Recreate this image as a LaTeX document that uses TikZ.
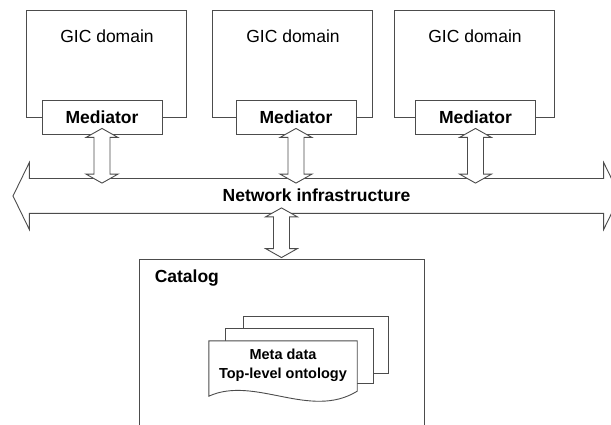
\documentclass[tikz,border=0pt]{standalone}
\usepackage{fontspec}
\setmainfont{Liberation Sans}
\usetikzlibrary{calc,shapes.arrows}

% hollow two-headed block arrow, #1 = upper tip, #2 = lower tip
\newcommand\updown[2]{%
  \draw[blockarr] (#1) -- ($(#1)+(16,9)$) -- ($(#1)+(8,9)$)
    -- ($(#2)+(8,-9)$) -- ($(#2)+(16,-9)$) -- (#2)
    -- ($(#2)+(-16,-9)$) -- ($(#2)+(-8,-9)$)
    -- ($(#1)+(-8,9)$) -- ($(#1)+(-16,9)$) -- cycle;}

\begin{document}
\begin{tikzpicture}[x=1pt, y=-1pt,
  outl/.style={draw=black!70, line width=0.9pt},
  big/.style={font=\fontsize{17.5}{20}\selectfont},
  gicbox/.style={outl, minimum width=160pt, minimum height=107pt},
  med/.style={outl, fill=white, font=\bfseries\fontsize{17.5}{20}\selectfont,
              minimum width=120pt, minimum height=34pt},
  blockarr/.style={outl, fill=white},
  doctxt/.style={align=center, inner sep=0pt,
                 font=\bfseries\fontsize{14.5}{19}\selectfont},
]
\clip (0,0) rectangle (611,425);

% ---- GIC domains with their mediators ----
\node[gicbox] (dom1) at (106,63.5) {};
\node[gicbox] (dom2) at (292,63.5) {};
\node[gicbox] (dom3) at (474,63.5) {};

\node[big] (gic1) at ($(dom1.north)+(1,27)$) {GIC domain};
\node[big] (gic2) at ($(dom2.north)+(1,27)$) {GIC domain};
\node[big] (gic3) at ($(dom3.north)+(1,27)$) {GIC domain};

\node[med] (med1) at (102,117) {Mediator};
\node[med] (med2) at (296,117) {Mediator};
\node[med] (med3) at (475.5,117) {Mediator};

% ---- Network ----
\node[outl, fill=white, double arrow, double arrow head extend=16pt,
      double arrow tip angle=128, minimum height=607pt,
      inner xsep=0pt, inner ysep=9pt, text height=14pt, text depth=2pt,
      font=\bfseries\fontsize{17.5}{20}\selectfont]
  (net) at (316.5,196) {Network infrastructure};

\foreach \m in {med1,med2,med3}{
  \coordinate (up) at ($(\m.south)+(0,-6)$);
  \coordinate (dn) at ($(\m.south |- net.north)+(0,5)$);
  \updown{up}{dn}
}

% ---- Catalog ----
\node[outl, minimum width=285pt, minimum height=200pt] (cat) at (281.5,359) {};
\node[font=\bfseries\fontsize{17.5}{20}\selectfont, anchor=base west,
      inner sep=0pt] (catlbl) at ($(cat.north west)+(16,24)$) {Catalog};

\coordinate (ctop) at ($(net.south -| cat.north)+(0,-6)$);
\coordinate (cbot) at ($(cat.north)+(0,-1)$);
\updown{ctop}{cbot}

% stacked sheets
\node[minimum width=148pt, minimum height=55pt, inner sep=0pt] (meta) at (283,368.5) {};
\draw[outl, fill=white] ($(meta.north west)+(35,-24)$) rectangle ($(meta.south east)+(31,-23)$);
\draw[outl, fill=white] ($(meta.north west)+(17,-12)$) rectangle ($(meta.south east)+(16,-13)$);
\draw[outl, fill=white] (meta.north west) -- (meta.north east) -- ($(meta.south east)+(0,-5)$)
  .. controls ($(meta.south east)+(-47,24)$) and ($(meta.south west)+(46,-21)$) .. (meta.south west)
  -- cycle;
\node[doctxt] (metatxt) at ($(meta.center)+(0,-3.5)$) {Meta data\\Top-level ontology};

\end{tikzpicture}
\end{document}
